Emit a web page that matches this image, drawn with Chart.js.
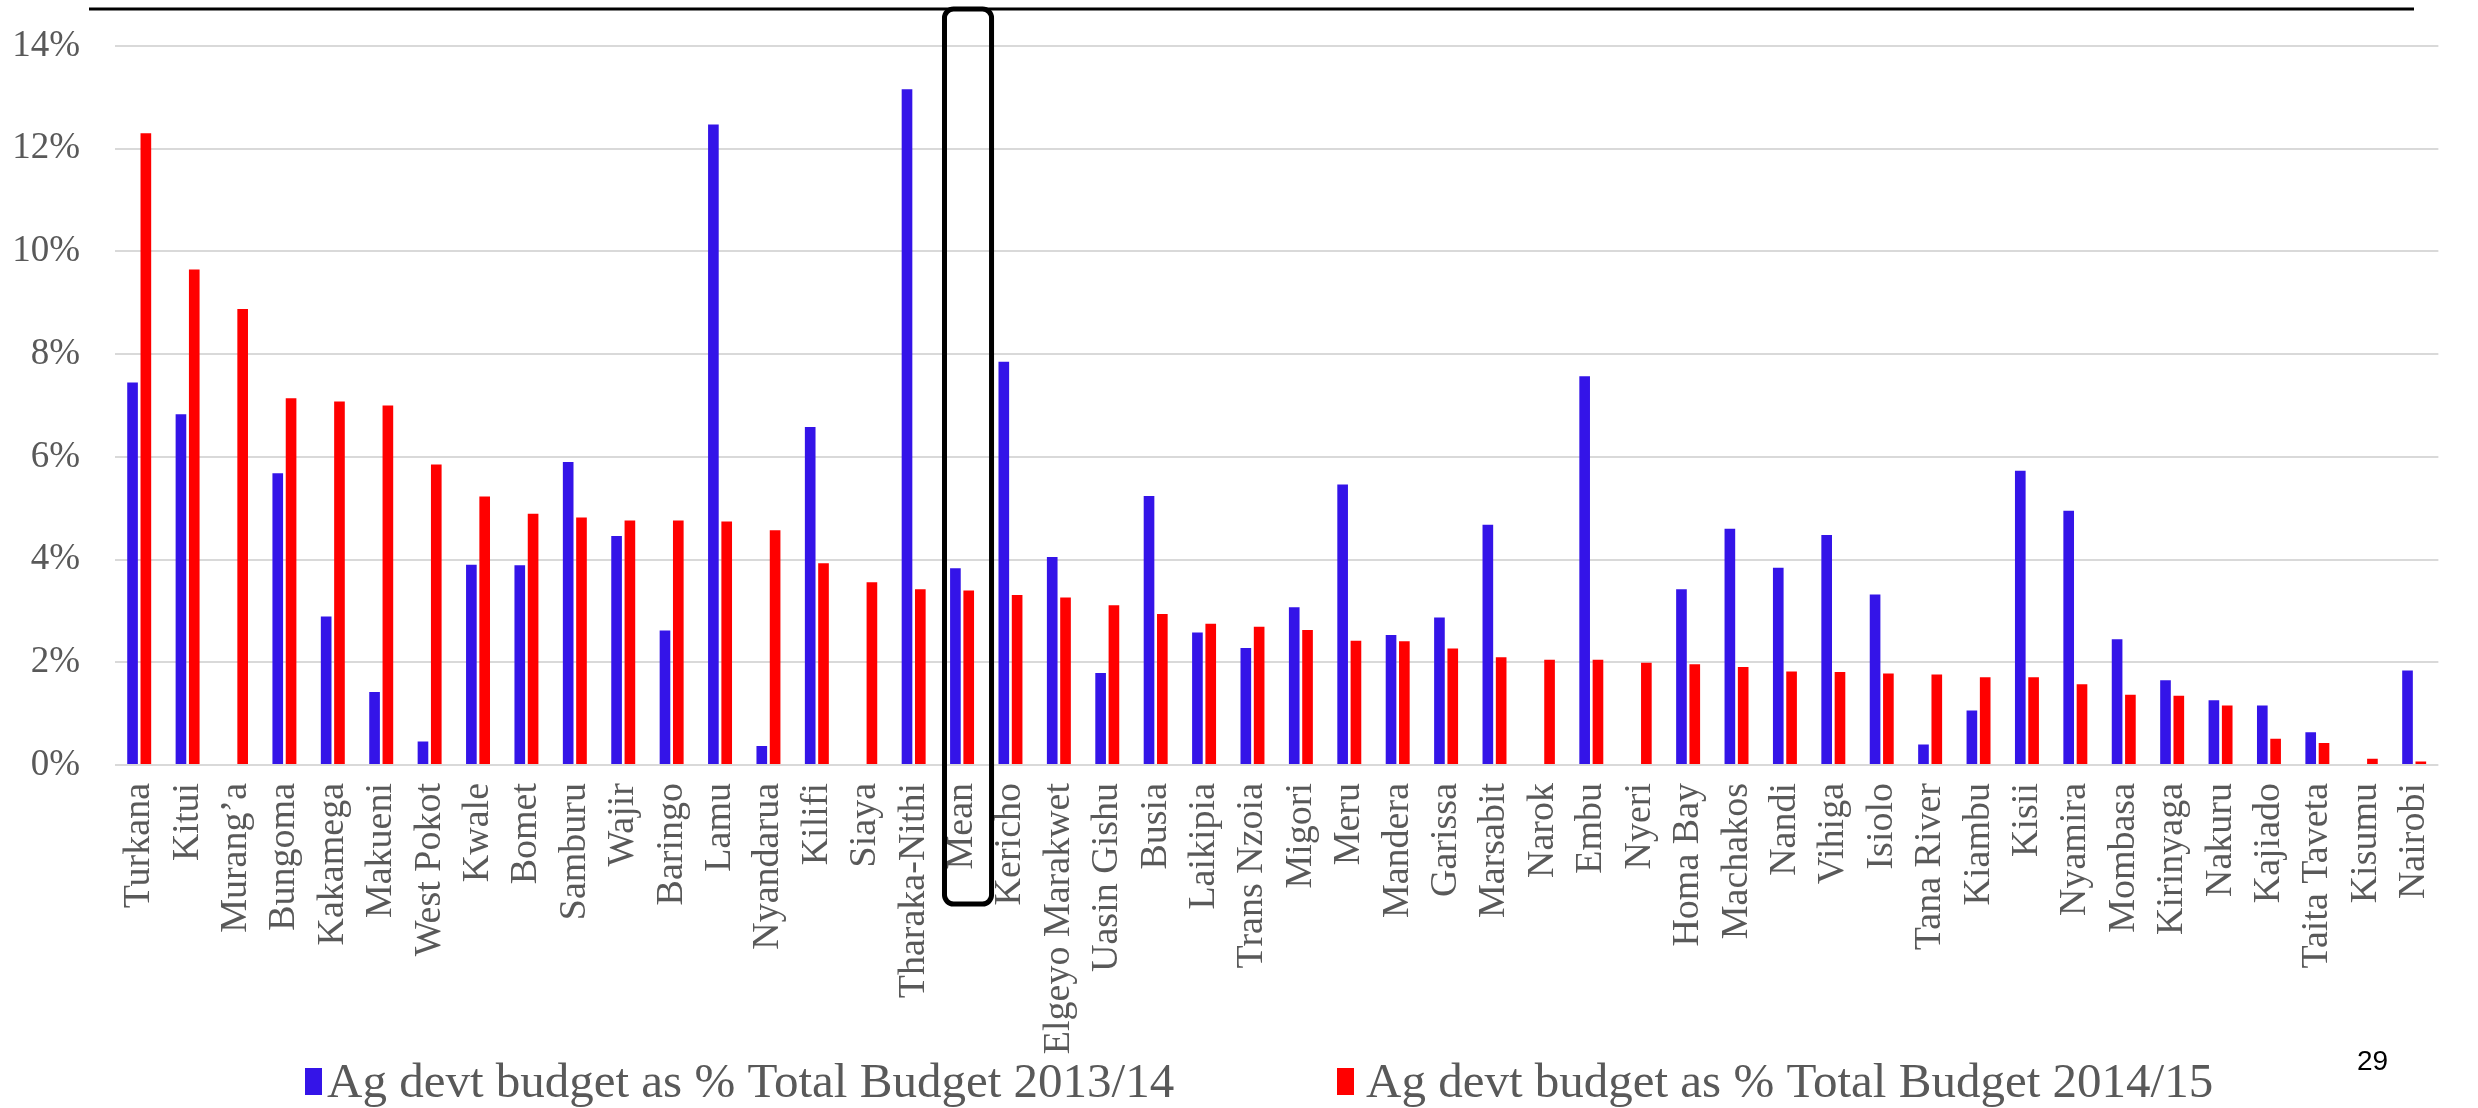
<!DOCTYPE html>
<html>
<head>
<meta charset="utf-8">
<title>Ag devt budget as % of total county budget</title>
<script src="https://cdn.jsdelivr.net/npm/chart.js@4/dist/chart.umd.min.js"></script>
<style>
  html, body { margin: 0; padding: 0; background: #ffffff; }
  #wrap { position: relative; width: 2478px; height: 1108px; }
</style>
</head>
<body>
<div id="wrap"><canvas id="chart" width="2478" height="1108"></canvas></div>
<script>
// Counties, ordered by the 2014/15 share; "Mean" is the cross-county average.
const counties = ['Turkana', 'Kitui', 'Murang\u2019a', 'Bungoma', 'Kakamega', 'Makueni', 'West Pokot', 'Kwale',
  'Bomet', 'Samburu', 'Wajir', 'Baringo', 'Lamu', 'Nyandarua', 'Kilifi', 'Siaya', 'Tharaka-Nithi', 'Mean',
  'Kericho', 'Elgeyo Marakwet', 'Uasin Gishu', 'Busia', 'Laikipia', 'Trans Nzoia', 'Migori', 'Meru', 'Mandera',
  'Garissa', 'Marsabit', 'Narok', 'Embu', 'Nyeri', 'Homa Bay', 'Machakos', 'Nandi', 'Vihiga', 'Isiolo',
  'Tana River', 'Kiambu', 'Kisii', 'Nyamira', 'Mombasa', 'Kirinyaga', 'Nakuru', 'Kajiado', 'Taita Taveta',
  'Kisumu', 'Nairobi'];

// Agricultural development budget as % of total budget, 2013/14
const share2013 = [7.45, 6.83, 0, 5.68, 2.89, 1.42, 0.46, 3.90, 3.89, 5.90, 4.46, 2.62, 12.47, 0.37, 6.58, 0,
  13.16, 3.83, 7.85, 4.05, 1.79, 5.24, 2.58, 2.28, 3.07, 5.46, 2.53, 2.87, 4.68, 0, 7.57, 0, 3.42, 4.60, 3.84,
  4.48, 3.32, 0.40, 1.06, 5.73, 4.95, 2.45, 1.65, 1.26, 1.16, 0.64, 0, 1.84];

// Agricultural development budget as % of total budget, 2014/15
const share2014 = [12.30, 9.65, 8.88, 7.14, 7.08, 7.00, 5.85, 5.23, 4.89, 4.82, 4.76, 4.76, 4.74, 4.57, 3.93,
  3.56, 3.42, 3.40, 3.31, 3.26, 3.11, 2.94, 2.75, 2.69, 2.63, 2.42, 2.41, 2.27, 2.10, 2.05, 2.05, 1.99, 1.96,
  1.91, 1.82, 1.81, 1.78, 1.76, 1.71, 1.71, 1.57, 1.37, 1.35, 1.16, 0.51, 0.43, 0.12, 0.07];

const seriesNames = ['Ag devt budget as % Total Budget 2013/14', 'Ag devt budget as % Total Budget 2014/15'];
const yTicks = [0, 2, 4, 6, 8, 10, 12, 14];
const highlighted = 'Mean';
const slideNumber = '29';

const BLUE = '#3414E8';
const RED = '#FF0000';
const GREY_TEXT = '#595959';
const SERIF = '"Liberation Serif", "Times New Roman", serif';

// Slide decorations: rule at the top, box around the mean, legend and page number.
const decorations = {
  id: 'decorations',
  afterDraw(chart) {
    const ctx = chart.ctx;
    const xs = chart.scales.x;
    const ys = chart.scales.y;
    ctx.save();

    // top rule
    ctx.strokeStyle = '#000000';
    ctx.lineWidth = 3;
    ctx.beginPath();
    ctx.moveTo(89, 9);
    ctx.lineTo(2414, 9);
    ctx.stroke();

    // rounded box around the Mean column and its label
    const idx = counties.indexOf(highlighted);
    const cx = xs.getPixelForValue(idx);
    const cw = xs.width / counties.length;
    const left = cx - 0.363 * cw;
    const right = cx + 0.609 * cw;
    const top = ys.getPixelForValue(yTicks[yTicks.length - 1]) - 37;
    const bottom = ys.getPixelForValue(0) + 139;
    ctx.lineWidth = 5;
    ctx.beginPath();
    ctx.roundRect(left, top, right - left, bottom - top, 9);
    ctx.stroke();

    // legend
    const legendX = [305, 1337];
    const textGap = [22, 29];
    ctx.font = '49px ' + SERIF;
    ctx.textBaseline = 'alphabetic';
    ctx.textAlign = 'left';
    chart.data.datasets.forEach((ds, i) => {
      ctx.fillStyle = ds.backgroundColor;
      ctx.fillRect(legendX[i], 1068, 17, 27);
      ctx.fillStyle = GREY_TEXT;
      ctx.fillText(ds.label, legendX[i] + textGap[i], 1097);
    });

    // page number
    ctx.fillStyle = '#000000';
    ctx.font = '28px "Liberation Sans", Arial, sans-serif';
    ctx.fillText(slideNumber, 2357, 1070);

    ctx.restore();
  }
};

new Chart(document.getElementById('chart'), {
  type: 'bar',
  data: {
    labels: counties,
    datasets: [
      { label: seriesNames[0], data: share2013, backgroundColor: BLUE },
      { label: seriesNames[1], data: share2014, backgroundColor: RED }
    ]
  },
  options: {
    responsive: false,
    animation: false,
    devicePixelRatio: 1,
    layout: { padding: { top: 46, right: 22, bottom: 0, left: 0 } },
    datasets: { bar: { categoryPercentage: 0.55, barPercentage: 0.8, borderWidth: 0 } },
    plugins: {
      legend: { display: false },
      tooltip: { enabled: false }
    },
    scales: {
      x: {
        grid: { display: false, drawTicks: false },
        border: { display: false },
        ticks: {
          autoSkip: false,
          minRotation: 90,
          maxRotation: 90,
          padding: 18,
          color: GREY_TEXT,
          font: { family: SERIF, size: 38 }
        },
        afterFit(scale) { scale.height = 343; }
      },
      y: {
        min: yTicks[0],
        max: yTicks[yTicks.length - 1],
        afterBuildTicks(scale) { scale.ticks = yTicks.map(v => ({ value: v })); },
        grid: { color: '#D9D9D9', lineWidth: 2, drawTicks: false },
        border: { display: false },
        ticks: {
          padding: 35,
          color: GREY_TEXT,
          font: { family: SERIF, size: 37 },
          callback: v => v + '%'
        },
        afterFit(scale) {
          scale.width = 115;
          scale.paddingTop = 0;
          scale.paddingBottom = 0;
        }
      }
    }
  },
  plugins: [decorations]
});
</script>
</body>
</html>
